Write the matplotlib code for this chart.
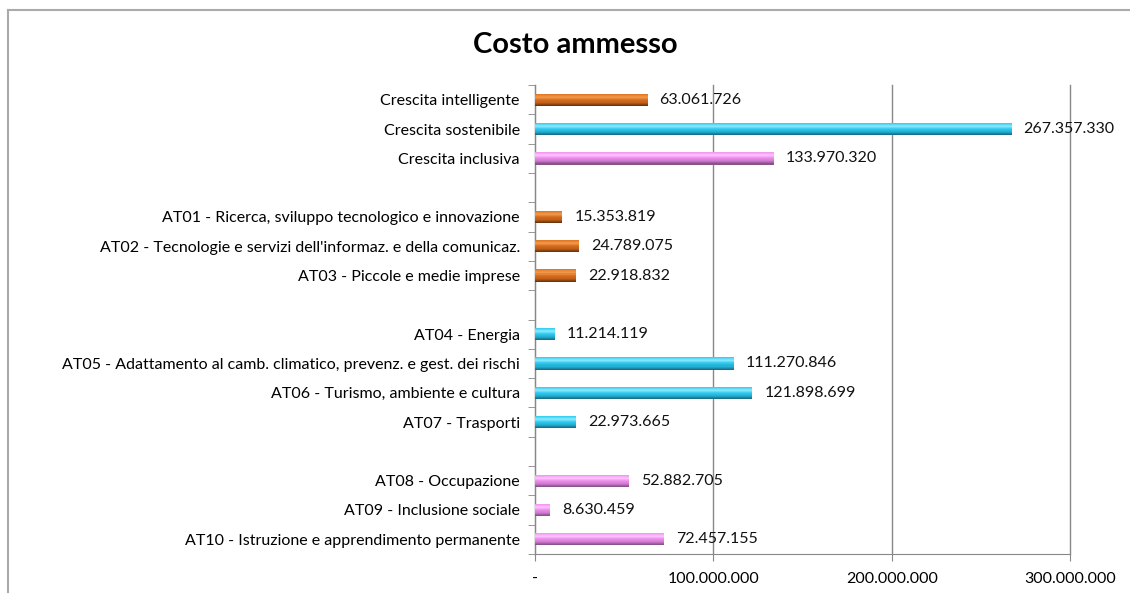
import matplotlib.pyplot as plt
from matplotlib.lines import Line2D
from matplotlib.colors import LinearSegmentedColormap

plt.rcParams['font.family'] = ['Lato', 'DejaVu Sans']

# categories top to bottom, '' marks an empty separator row
categories = [
    'Crescita intelligente',
    'Crescita sostenibile',
    'Crescita inclusiva',
    '',
    'AT01 - Ricerca, sviluppo tecnologico e innovazione',
    "AT02 - Tecnologie e servizi dell'informaz. e della comunicaz.",
    'AT03 - Piccole e medie imprese',
    '',
    'AT04 - Energia',
    'AT05 - Adattamento al camb. climatico, prevenz. e gest. dei rischi',
    'AT06 - Turismo, ambiente e cultura',
    'AT07 - Trasporti',
    '',
    'AT08 - Occupazione',
    'AT09 - Inclusione sociale',
    'AT10 - Istruzione e apprendimento permanente',
]
values = [63061726, 267357330, 133970320, None,
          15353819, 24789075, 22918832, None,
          11214119, 111270846, 121898699, 22973665, None,
          52882705, 8630459, 72457155]
groups = ['int', 'sos', 'inc', None,
          'int', 'int', 'int', None,
          'sos', 'sos', 'sos', 'sos', None,
          'inc', 'inc', 'inc']

xticks = [0, 100000000, 200000000, 300000000]

# shades from top to bottom of each bar (cylinder look)
palette = {
    'int': ['#e07a2a', '#f29a4a', '#d46a1c', '#c05e18', '#6e350c'],
    'sos': ['#3cd0f0', '#8aeaff', '#2ec8ee', '#22b0d4', '#176f8a'],
    'inc': ['#f29af2', '#ffc4ff', '#ea8cea', '#d27ad2', '#8a528a'],
}

def fmt(v):
    return f"{v:,}".replace(',', '.')

fig = plt.figure(figsize=(11.3, 5.95), dpi=100)
ax = fig.add_axes([0.4735, 0.069, 0.4735, 0.788])

h = 0.42
n = 12
for i, (v, g) in enumerate(zip(values, groups)):
    if v is None:
        continue
    cmap = LinearSegmentedColormap.from_list(g, palette[g])
    top = i - h / 2
    for k in range(n):
        ax.barh(top + (k + 0.5) * h / n, v, height=h / n * 1.05,
                color=cmap(k / (n - 1)), linewidth=0, zorder=3)
    ax.annotate(fmt(v), (v, i), xytext=(8.5, 0), textcoords='offset points',
                va='center', ha='left', fontsize=11.5, color='#111111')

ax.set_ylim(len(categories) - 0.5, -0.5)
ax.set_xlim(0, 300000000)
ax.set_yticks(range(len(categories)))
ax.set_yticklabels(categories, fontsize=11.5)
ax.set_yticks([i + 0.5 for i in range(-1, len(categories))], minor=True)
ax.tick_params(axis='y', which='major', length=0, pad=11)
ax.tick_params(axis='y', which='minor', length=5, color='#888888')
ax.set_xticks(xticks)
ax.set_xticklabels(['-' if t == 0 else fmt(t) for t in xticks], fontsize=11.5)
ax.tick_params(axis='x', length=5, color='#888888', pad=8)

ax.grid(axis='x', color='#888888', linewidth=1, zorder=0)
for gl in ax.get_xgridlines():
    gl.set_clip_on(False)
for s in ['top', 'right']:
    ax.spines[s].set_visible(False)
for s in ['left', 'bottom']:
    ax.spines[s].set_color('#888888')

fig.text(0.509, 0.925, 'Costo ammesso', ha='center', va='center',
         fontsize=21, fontweight='bold')

# outer chart frame (top and left edges visible)
fig.add_artist(Line2D([0.007, 1.0], [0.983, 0.983], color='#aaaaaa', lw=1.5))
fig.add_artist(Line2D([0.007, 0.007], [0.983, 0.005], color='#aaaaaa', lw=1.5))

fig.savefig('out.png', dpi=100, facecolor='white')
